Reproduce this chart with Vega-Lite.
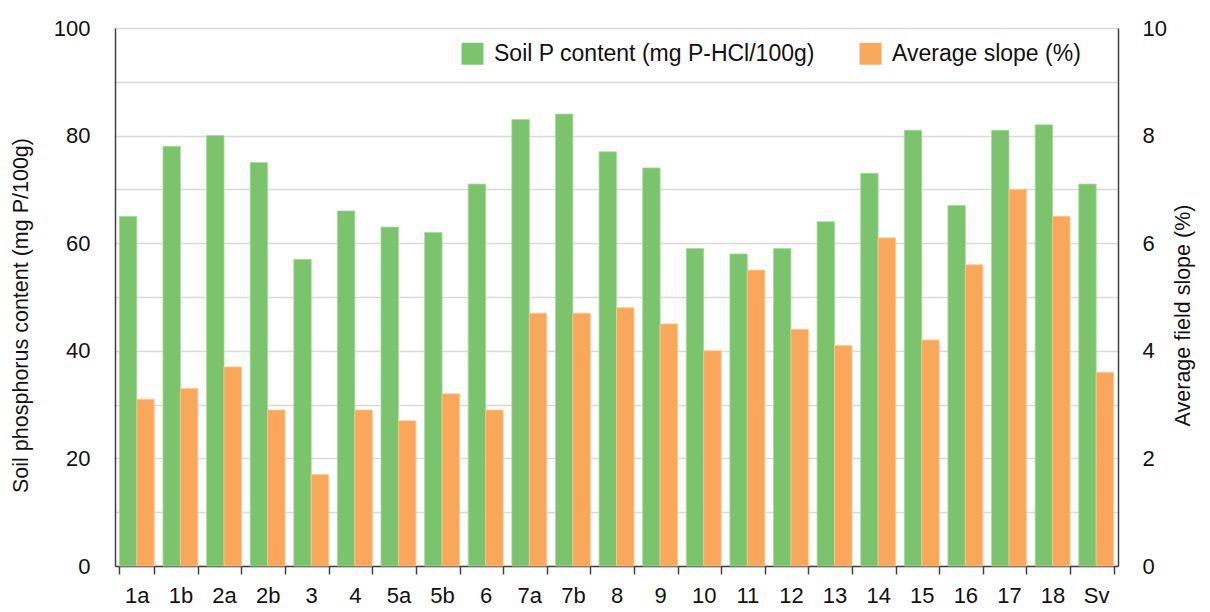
{
  "$schema": "https://vega.github.io/schema/vega-lite/v6.json",
  "width": 1003,
  "height": 538,
  "autosize": {"type": "none"},
  "padding": {"left": 115, "top": 28, "right": 92, "bottom": 46},
  "background": "white",
  "config": {
    "font": "Liberation Sans",
    "view": {"stroke": null},
    "axis": {"labelColor": "#111", "titleColor": "#111", "titleFontWeight": "normal"}
  },
  "data": {
    "values": [
      {"site": "1a", "series": "Soil P content (mg P-HCl/100g)", "value": 65},
      {"site": "1b", "series": "Soil P content (mg P-HCl/100g)", "value": 78},
      {"site": "2a", "series": "Soil P content (mg P-HCl/100g)", "value": 80},
      {"site": "2b", "series": "Soil P content (mg P-HCl/100g)", "value": 75},
      {"site": "3", "series": "Soil P content (mg P-HCl/100g)", "value": 57},
      {"site": "4", "series": "Soil P content (mg P-HCl/100g)", "value": 66},
      {"site": "5a", "series": "Soil P content (mg P-HCl/100g)", "value": 63},
      {"site": "5b", "series": "Soil P content (mg P-HCl/100g)", "value": 62},
      {"site": "6", "series": "Soil P content (mg P-HCl/100g)", "value": 71},
      {"site": "7a", "series": "Soil P content (mg P-HCl/100g)", "value": 83},
      {"site": "7b", "series": "Soil P content (mg P-HCl/100g)", "value": 84},
      {"site": "8", "series": "Soil P content (mg P-HCl/100g)", "value": 77},
      {"site": "9", "series": "Soil P content (mg P-HCl/100g)", "value": 74},
      {"site": "10", "series": "Soil P content (mg P-HCl/100g)", "value": 59},
      {"site": "11", "series": "Soil P content (mg P-HCl/100g)", "value": 58},
      {"site": "12", "series": "Soil P content (mg P-HCl/100g)", "value": 59},
      {"site": "13", "series": "Soil P content (mg P-HCl/100g)", "value": 64},
      {"site": "14", "series": "Soil P content (mg P-HCl/100g)", "value": 73},
      {"site": "15", "series": "Soil P content (mg P-HCl/100g)", "value": 81},
      {"site": "16", "series": "Soil P content (mg P-HCl/100g)", "value": 67},
      {"site": "17", "series": "Soil P content (mg P-HCl/100g)", "value": 81},
      {"site": "18", "series": "Soil P content (mg P-HCl/100g)", "value": 82},
      {"site": "Sv", "series": "Soil P content (mg P-HCl/100g)", "value": 71},
      {"site": "1a", "series": "Average slope (%)", "value": 3.1},
      {"site": "1b", "series": "Average slope (%)", "value": 3.3},
      {"site": "2a", "series": "Average slope (%)", "value": 3.7},
      {"site": "2b", "series": "Average slope (%)", "value": 2.9},
      {"site": "3", "series": "Average slope (%)", "value": 1.7},
      {"site": "4", "series": "Average slope (%)", "value": 2.9},
      {"site": "5a", "series": "Average slope (%)", "value": 2.7},
      {"site": "5b", "series": "Average slope (%)", "value": 3.2},
      {"site": "6", "series": "Average slope (%)", "value": 2.9},
      {"site": "7a", "series": "Average slope (%)", "value": 4.7},
      {"site": "7b", "series": "Average slope (%)", "value": 4.7},
      {"site": "8", "series": "Average slope (%)", "value": 4.8},
      {"site": "9", "series": "Average slope (%)", "value": 4.5},
      {"site": "10", "series": "Average slope (%)", "value": 4.0},
      {"site": "11", "series": "Average slope (%)", "value": 5.5},
      {"site": "12", "series": "Average slope (%)", "value": 4.4},
      {"site": "13", "series": "Average slope (%)", "value": 4.1},
      {"site": "14", "series": "Average slope (%)", "value": 6.1},
      {"site": "15", "series": "Average slope (%)", "value": 4.2},
      {"site": "16", "series": "Average slope (%)", "value": 5.6},
      {"site": "17", "series": "Average slope (%)", "value": 7.0},
      {"site": "18", "series": "Average slope (%)", "value": 6.5},
      {"site": "Sv", "series": "Average slope (%)", "value": 3.6}
    ]
  },
  "encoding": {
    "x": {
      "field": "site",
      "type": "nominal",
      "sort": null,
      "scale": {"paddingInner": 0.2, "paddingOuter": 0.1},
      "axis": {
        "title": null,
        "labelAngle": 0,
        "labelFontSize": 22,
        "labelPadding": 11,
        "tickBand": "extent",
        "tickSize": 8,
        "tickColor": "#404040",
        "tickWidth": 1.5,
        "domainColor": "#404040",
        "domainWidth": 1.5,
        "grid": false
      }
    },
    "xOffset": {
      "field": "series",
      "type": "nominal",
      "scale": {"domain": ["Soil P content (mg P-HCl/100g)", "Average slope (%)"]}
    },
    "color": {
      "field": "series",
      "type": "nominal",
      "scale": {
        "domain": ["Soil P content (mg P-HCl/100g)", "Average slope (%)"],
        "range": ["#7bc36c", "#f9a75b"]
      },
      "legend": {
        "title": null,
        "orient": "none",
        "legendX": 346,
        "legendY": 14,
        "direction": "horizontal",
        "symbolType": "square",
        "symbolSize": 480,
        "symbolStrokeWidth": 0,
        "labelFontSize": 23,
        "labelColor": "#111",
        "labelOffset": 10,
        "columnPadding": 44,
        "labelLimit": 400,
        "fillColor": "white"
      }
    }
  },
  "layer": [
    {
      "transform": [{"filter": "datum.series === 'Soil P content (mg P-HCl/100g)'"}],
      "mark": {"type": "bar", "stroke": "#a9d99e", "strokeWidth": 0.8},
      "encoding": {
        "y": {
          "field": "value",
          "type": "quantitative",
          "scale": {"domain": [0, 100], "nice": false},
          "axis": {
            "title": "Soil phosphorus content (mg P/100g)",
            "titleFontSize": 21.5,
            "titlePadding": 21,
            "titleY": 287,
            "values": [0, 10, 20, 30, 40, 50, 60, 70, 80, 90, 100],
            "labelExpr": "datum.value % 20 === 0 ? datum.label : ''",
            "labelFontSize": 22,
            "labelPadding": 25,
            "ticks": false,
            "tickSize": 0,
            "grid": true,
            "gridColor": "#d9d9d9",
            "gridWidth": 1.5,
            "domainColor": "#404040",
            "domainWidth": 1.5
          }
        }
      }
    },
    {
      "transform": [{"filter": "datum.series === 'Average slope (%)'"}],
      "mark": {"type": "bar", "stroke": "#fcc894", "strokeWidth": 0.8},
      "encoding": {
        "y": {
          "field": "value",
          "type": "quantitative",
          "scale": {"domain": [0, 10], "nice": false},
          "axis": {
            "orient": "right",
            "title": "Average field slope (%)",
            "titleFontSize": 21.5,
            "titleAngle": 270,
            "titlePadding": 28,
            "titleY": 287,
            "values": [0, 2, 4, 6, 8, 10],
            "labelFontSize": 22,
            "labelPadding": 24,
            "ticks": false,
            "tickSize": 0,
            "grid": false,
            "domainColor": "#404040",
            "domainWidth": 1.5
          }
        }
      }
    }
  ],
  "resolve": {"scale": {"y": "independent"}}
}
